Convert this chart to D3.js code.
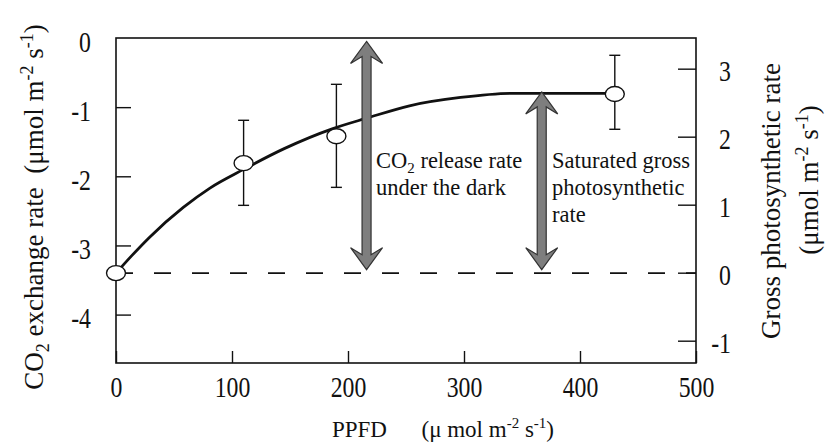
<!DOCTYPE html>
<html>
<head>
<meta charset="utf-8">
<script src="https://cdn.jsdelivr.net/npm/d3@7"></script>
<style>
  body { margin: 0; background: #fff; }
  svg { display: block; font-family: "Liberation Serif", "Times New Roman", serif; }
</style>
</head>
<body>
<div id="chart"></div>
<script>
// measured points (PPFD, CO2 exchange rate)
const ppfd = [0, 110, 190, 430];
const co2Rate = [-3.40, -1.81, -1.42, -0.81];
const errHigh = [null, -1.19, -0.67, -0.25];
const errLow = [null, -2.42, -2.16, -1.32];

// fitted light response curve
const curvePpfd = [0, 14, 29, 58, 81, 110, 145, 187, 216, 253, 297, 341, 430];
const curveRate = [-3.40, -3.14, -2.88, -2.45, -2.17, -1.90, -1.60, -1.31, -1.16, -0.98, -0.86, -0.80, -0.80];

const darkLevel = -3.40;          // gross rate 0
const arrowPpfd = [216, 367];
const arrowTop = [-0.05, -0.78];
const arrowBottom = [-3.35, -3.35];

const xTicks = [0, 100, 200, 300, 400, 500];
const leftTicks = [0, -1, -2, -3, -4];
const rightTicks = [-1, 0, 1, 2, 3];

const WIDTH = 832, HEIGHT = 445;
const PLOT = { left: 116, right: 696, top: 38, bottom: 363 };
const SX = 0.82; // tick label glyphs look condensed

const svg = d3.select("#chart").append("svg")
    .attr("width", WIDTH)
    .attr("height", HEIGHT);

const x = d3.scaleLinear().domain([0, 500]).range([PLOT.left, PLOT.right]);
const y = d3.scaleLinear().domain([-4.7, 0]).range([PLOT.bottom, PLOT.top]);
const y2 = d3.scaleLinear().domain([-1.328, 3.451]).range([PLOT.bottom, PLOT.top]);

const fmt = d => String(d);

// frame
svg.append("rect")
    .attr("x", PLOT.left).attr("y", PLOT.top)
    .attr("width", PLOT.right - PLOT.left)
    .attr("height", PLOT.bottom - PLOT.top)
    .attr("fill", "none").attr("stroke", "#111").attr("stroke-width", 1.6);

// axes
const gx = svg.append("g")
    .attr("transform", "translate(0," + PLOT.bottom + ")")
    .call(d3.axisBottom(x).tickValues(xTicks).tickFormat(fmt)
        .tickSizeInner(-12).tickSizeOuter(0).tickPadding(13));
gx.selectAll("text").attr("transform", "scale(" + SX + ",1)");

const gy = svg.append("g")
    .attr("transform", "translate(" + PLOT.left + ",0)")
    .call(d3.axisLeft(y).tickValues(leftTicks).tickFormat(fmt).tickSizeInner(-15).tickSizeOuter(0));
gy.selectAll("text").attr("x", -25 / SX).attr("dy", "0.45em").attr("transform", "scale(" + SX + ",1)");

const gy2 = svg.append("g")
    .attr("transform", "translate(" + PLOT.right + ",0)")
    .call(d3.axisRight(y2).tickValues(rightTicks).tickFormat(fmt).tickSizeInner(-18).tickSizeOuter(0));
gy2.selectAll("text").attr("x", 35 / SX).attr("dy", "0.4em")
    .attr("text-anchor", "end").attr("transform", "scale(" + SX + ",1)");

svg.selectAll(".domain").remove();
svg.selectAll(".tick line").attr("stroke", "#111").attr("stroke-width", 1.4);
svg.selectAll(".tick text").attr("fill", "#111").style("font-size", "29px")
    .style("font-family", "'Liberation Serif','Times New Roman',serif");
gy.selectAll(".tick").filter(d => d === 0).select("line").remove();

// dashed zero line of gross photosynthesis
svg.append("line")
    .attr("x1", PLOT.left).attr("x2", PLOT.right)
    .attr("y1", y(darkLevel)).attr("y2", y(darkLevel))
    .attr("stroke", "#111").attr("stroke-width", 1.6)
    .attr("stroke-dasharray", "17,21");

// curve
const line = d3.line()
    .x(d => x(d[0]))
    .y(d => y(d[1]))
    .curve(d3.curveMonotoneX);
svg.append("path")
    .datum(d3.zip(curvePpfd, curveRate))
    .attr("d", line)
    .attr("fill", "none")
    .attr("stroke", "#111")
    .attr("stroke-width", 2.8);

// arrows
function arrowPath(cx, y1, y2) {
    const hw = 16, hl = 22, notch = 15, sw = 4.5;
    return [
        [cx, y1], [cx + hw, y1 + hl], [cx + sw, y1 + notch],
        [cx + sw, y2 - notch], [cx + hw, y2 - hl], [cx, y2],
        [cx - hw, y2 - hl], [cx - sw, y2 - notch],
        [cx - sw, y1 + notch], [cx - hw, y1 + hl]
    ].map((p, i) => (i ? "L" : "M") + p[0] + "," + p[1]).join("") + "Z";
}
svg.selectAll(".arrow")
    .data(d3.range(arrowPpfd.length))
    .join("path")
    .attr("class", "arrow")
    .attr("d", i => arrowPath(x(arrowPpfd[i]), y(arrowTop[i]), y(arrowBottom[i])))
    .attr("fill", "#7e7e7e")
    .attr("stroke", "#333")
    .attr("stroke-width", 1.2)
    .attr("stroke-linejoin", "miter");

// error bars
const pts = d3.range(ppfd.length).filter(i => errHigh[i] !== null);
const eb = svg.append("g").attr("stroke", "#111").attr("stroke-width", 1.4);
eb.selectAll(".ev").data(pts).join("line")
    .attr("x1", i => x(ppfd[i])).attr("x2", i => x(ppfd[i]))
    .attr("y1", i => y(errHigh[i])).attr("y2", i => y(errLow[i]));
eb.selectAll(".ct").data(pts).join("line")
    .attr("x1", i => x(ppfd[i]) - 5.5).attr("x2", i => x(ppfd[i]) + 5.5)
    .attr("y1", i => y(errHigh[i])).attr("y2", i => y(errHigh[i]));
eb.selectAll(".cb").data(pts).join("line")
    .attr("x1", i => x(ppfd[i]) - 5.5).attr("x2", i => x(ppfd[i]) + 5.5)
    .attr("y1", i => y(errLow[i])).attr("y2", i => y(errLow[i]));

// markers
svg.selectAll(".pt")
    .data(d3.range(ppfd.length))
    .join("ellipse")
    .attr("class", "pt")
    .attr("cx", i => x(ppfd[i]))
    .attr("cy", i => y(co2Rate[i]))
    .attr("rx", 9.5).attr("ry", 7.5)
    .attr("fill", "#fff").attr("stroke", "#111").attr("stroke-width", 1.4);

// annotations
const note = svg.append("g").style("font-size", "22.5px").attr("fill", "#111");
const t1 = note.append("text").attr("x", 376).attr("y", 168);
t1.append("tspan").text("CO");
t1.append("tspan").text("2").style("font-size", "15px").attr("dy", 5);
t1.append("tspan").text(" release rate").attr("dy", -5);
note.append("text").attr("x", 376).attr("y", 195).text("under the dark");
note.append("text").attr("x", 552).attr("y", 168).text("Saturated gross");
note.append("text").attr("x", 552).attr("y", 195).text("photosynthetic");
note.append("text").attr("x", 552).attr("y", 222).text("rate");

// axis titles
const titles = svg.append("g").style("font-size", "27px").attr("fill", "#111");

const xt = titles.append("text").attr("x", 443).attr("y", 437).attr("text-anchor", "middle")
    .style("font-size", "23px");
xt.append("tspan").text("PPFD\u2003\u2002(\u03bc mol m");
xt.append("tspan").text("-2").style("font-size", "15px").attr("dy", -9);
xt.append("tspan").text(" s").attr("dy", 9);
xt.append("tspan").text("-1").style("font-size", "15px").attr("dy", -9);
xt.append("tspan").text(")").attr("dy", 9);

const lt = titles.append("text")
    .attr("transform", "translate(43,207) rotate(-90)")
    .attr("text-anchor", "middle");
lt.append("tspan").text("CO");
lt.append("tspan").text("2").style("font-size", "18px").attr("dy", 6);
lt.append("tspan").text(" exchange rate\u2002(\u03bcmol m").attr("dy", -6);
lt.append("tspan").text("-2").style("font-size", "18px").attr("dy", -10);
lt.append("tspan").text(" s").attr("dy", 10);
lt.append("tspan").text("-1").style("font-size", "18px").attr("dy", -10);
lt.append("tspan").text(")").attr("dy", 10);

titles.append("text")
    .attr("transform", "translate(780,201) rotate(-90)")
    .attr("text-anchor", "middle")
    .text("Gross photosynthetic rate");

const rt = titles.append("text")
    .attr("transform", "translate(818,180) rotate(-90)")
    .attr("text-anchor", "middle");
rt.append("tspan").text("(\u03bcmol m");
rt.append("tspan").text("-2").style("font-size", "18px").attr("dy", -10);
rt.append("tspan").text(" s").attr("dy", 10);
rt.append("tspan").text("-1").style("font-size", "18px").attr("dy", -10);
rt.append("tspan").text(")").attr("dy", 10);
</script>
</body>
</html>
